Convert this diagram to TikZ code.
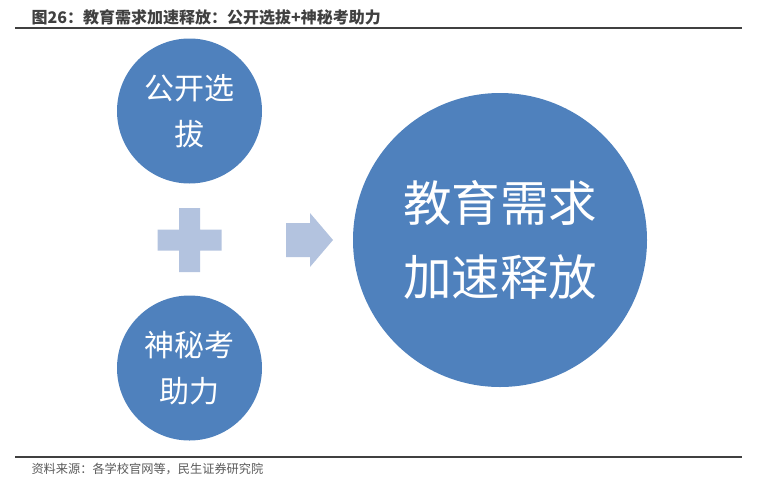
\documentclass[tikz,border=0pt]{standalone}
\usepackage{fontspec}
\setmainfont{Noto Sans CJK SC}
\usetikzlibrary{positioning, calc}
\definecolor{bubbleblue}{HTML}{4F81BD}
\definecolor{signblue}{HTML}{B3C3DF}
\definecolor{titlegray}{HTML}{404040}

\begin{document}
\begin{tikzpicture}[x=1pt,y=-1pt,
    bubble/.style={circle, fill=bubbleblue, text=white, align=center, inner sep=0pt},
    sign/.style={fill=signblue}]
    \useasboundingbox (0,0) rectangle (784,498);

    % Title and rules
    \node[anchor=west, text=titlegray, font=\fontsize{16}{18}\selectfont\bfseries] (title) at (28,17)
        {图26：教育需求加速释放：公开选拔+神秘考助力};
    \draw[titlegray, line width=1.5pt] (15,28) -- (742,28);
    \draw[titlegray, line width=1.5pt] (15,457) -- (742,457);
    \node[anchor=west, text=black!65, font=\fontsize{12.2}{14}\selectfont] (source) at (28,469)
        {资料来源：各学校官网等，民生证券研究院};

    % Small circles
    \node[bubble, minimum size=145pt, font=\fontsize{30}{46}\selectfont] (select) at (189.5,111) {公开选\\拔};
    \node[bubble, minimum size=145pt, font=\fontsize{30}{46}\selectfont] (mystery) at (189.5,368) {神秘考\\助力};

    % Big circle
    \node[bubble, minimum size=294pt, font=\fontsize{48.5}{74}\selectfont] (demand) at (500,240) {教育需求\\加速释放};

    % Plus sign
    \coordinate (plus) at (189.5,240);
    \fill[sign] ($(plus)+(-10.5,-32)$) -- ($(plus)+(10.5,-32)$) -- ($(plus)+(10.5,-10.5)$)
        -- ($(plus)+(32,-10.5)$) -- ($(plus)+(32,10.5)$) -- ($(plus)+(10.5,10.5)$)
        -- ($(plus)+(10.5,32)$) -- ($(plus)+(-10.5,32)$) -- ($(plus)+(-10.5,10.5)$)
        -- ($(plus)+(-32,10.5)$) -- ($(plus)+(-32,-10.5)$) -- ($(plus)+(-10.5,-10.5)$) -- cycle;

    % Arrow
    \coordinate (tip) at (333,240);
    \fill[sign] (286,223) -- (310,223) -- (310,213) -- (tip) -- (310,267) -- (310,257) -- (286,257) -- cycle;
\end{tikzpicture}
\end{document}
